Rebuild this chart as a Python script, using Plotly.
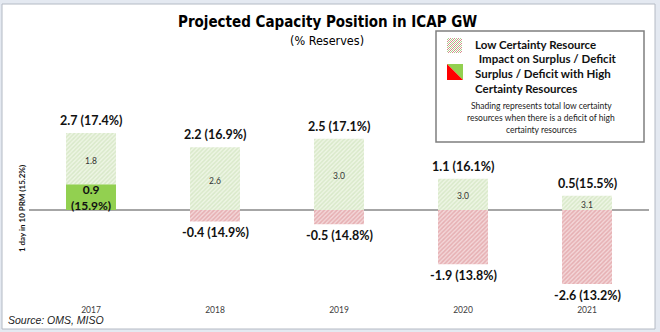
import plotly.graph_objects as go

# ---------------- data ----------------
years = ["2017", "2018", "2019", "2020", "2021"]
high_certainty = [0.9, -0.4, -0.5, -1.9, -2.6]      # surplus/deficit with high certainty resources (GW)
low_certainty = [1.8, 2.6, 3.0, 3.0, 3.1]           # low certainty resources (GW)
total_labels = ["2.7 (17.4%)", "2.2 (16.9%)", "2.5 (17.1%)", "1.1 (16.1%)", "0.5(15.5%)"]
high_labels = ["0.9<br>(15.9%)", "-0.4 (14.9%)", "-0.5 (14.8%)", "-1.9 (13.8%)", "-2.6 (13.2%)"]

totals = [round(h + l, 1) for h, l in zip(high_certainty, low_certainty)]
solid_green = [h if h > 0 else None for h in high_certainty]
green_hatch = [round(t - max(h, 0), 2) for t, h in zip(totals, high_certainty)]
red_hatch = [h if h < 0 else None for h in high_certainty]

# ---------------- layout geometry ----------------
W, H = 660, 332
L, R, T, B = 29, 649, 60, 299
PX_PER_GW = 28.5
ZERO_PX = 210
y_top = (ZERO_PX - T) / PX_PER_GW
y_bot = -(B - ZERO_PX) / PX_PER_GW


def px(x):
    return (x - L) / (R - L)


def py(y):
    return (B - y) / (B - T)


LATO = "Lato, 'Open Sans', sans-serif"
NARROW = "'Liberation Sans Narrow', 'Arial Narrow', 'DejaVu Sans Condensed', sans-serif"

G_BG, G_FG = "#eef5e5", "#c3dcae"
R_BG, R_FG = "#f3d6d8", "#d9878c"

fig = go.Figure()
fig.add_trace(go.Bar(x=years, y=solid_green, width=0.403, marker=dict(color="#92d050", line=dict(width=0)),
                     hoverinfo="skip"))
fig.add_trace(go.Bar(x=years, y=green_hatch, width=0.403,
                     marker=dict(color=G_BG, line=dict(width=0),
                                 pattern=dict(shape="/", fgcolor=G_FG, size=3, solidity=0.5, fillmode="overlay")),
                     hoverinfo="skip"))
fig.add_trace(go.Bar(x=years, y=red_hatch, width=0.403,
                     marker=dict(color=R_BG, line=dict(width=0),
                                 pattern=dict(shape="/", fgcolor=R_FG, size=3, solidity=0.5, fillmode="overlay")),
                     hoverinfo="skip"))

ann = []
# total labels above bars (x given as category index)
for i, (t, lab) in enumerate(zip(totals, total_labels)):
    ann.append(dict(xref="x", yref="y", x=i, y=t, text=f"<b>{lab}</b>", showarrow=False,
                    xanchor="center", yanchor="bottom", yshift=3,
                    font=dict(family=LATO, size=12.5, color="#111111")))
# high-certainty labels
for i, (h, lab) in enumerate(zip(high_certainty, high_labels)):
    if h > 0:
        ann.append(dict(xref="x", yref="y", x=i, y=h / 2, text=f"<b>{lab}</b>", showarrow=False,
                        xanchor="center", yanchor="middle",
                        font=dict(family=LATO, size=12, color="#111111")))
    else:
        ann.append(dict(xref="x", yref="y", x=i, y=h, text=f"<b>{lab}</b>", showarrow=False,
                        xanchor="center", yanchor="top", yshift=-2,
                        font=dict(family=LATO, size=12.5, color="#111111")))
# low certainty values inside hatched parts
for i, (h, t, lc) in enumerate(zip(high_certainty, totals, low_certainty)):
    base = max(h, 0)
    ann.append(dict(xref="x", yref="y", x=i, y=(base + t) / 2, text=f"{lc:.1f}", showarrow=False,
                    xanchor="center", yanchor="middle", yshift=-2,
                    font=dict(family=LATO, size=8.5, color="#333333")))


def pann(x, y, text, font, xanchor="center", **kw):
    d = dict(xref="paper", yref="paper", x=px(x), y=py(y), text=text, showarrow=False,
             xanchor=xanchor, yanchor="middle", font=font)
    d.update(kw)
    ann.append(d)


# titles
pann(327, 22, "<b>Projected Capacity Position in ICAP GW</b>", dict(family=NARROW, size=15, color="#000000"))
pann(327, 41, "(% Reserves)", dict(family=NARROW, size=12.5, color="#000000"))
# y title
pann(22, 209, "<b>1 day in 10 PRM (15.2%)</b>", dict(family=LATO, size=8, color="#111111"), textangle=-90)
# source
pann(6, 320, "<i>Source: OMS, MISO</i>", dict(family="'Liberation Sans', Arial, sans-serif", size=10.5,
                                               color="#222222"), xanchor="left")
# legend texts
leg_font = dict(family=LATO, size=11.5, color="#111111")
for txt, xx, yy in [("Low Certainty Resource", 473, 44), (" Impact on Surplus / Deficit", 474, 58),
                    ("Surplus / Deficit with High", 473, 73), ("Certainty Resources", 473, 88)]:
    pann(xx, yy, f"<b>{txt}</b>", leg_font, xanchor="left")
for txt, yy in [("Shading represents total low certainty", 106), ("resources when there is a deficit of high", 118),
                ("certainty resources", 130)]:
    pann(541, yy, txt, dict(family=LATO, size=8.5, color="#222222"))

shapes = []
# outer frame
shapes.append(dict(type="rect", xref="paper", yref="paper", x0=px(2), x1=px(655), y0=py(329), y1=py(4),
                   fillcolor="white", line=dict(color="#b4bac4", width=1), layer="below"))
# legend box
shapes.append(dict(type="rect", xref="paper", yref="paper", x0=px(436), x1=px(644), y0=py(142), y1=py(31),
                   fillcolor="white", line=dict(color="#7f7f7f", width=1.5), layer="above"))
# hatched legend icon (diagonal stripes)
ix0, iy0, s = 447, 38, 15
cols = ["#a9d08e", "#d98a8e"]
k = 0
for off in range(-s, s + 1, 2):
    u0 = max(0, off)
    v0 = u0 - off
    u1 = min(s, s + off)
    v1 = u1 - off
    if u1 - u0 < 0.5:
        continue
    shapes.append(dict(type="line", xref="paper", yref="paper",
                       x0=px(ix0 + u0), y0=py(iy0 + s - v0), x1=px(ix0 + u1), y1=py(iy0 + s - v1),
                       line=dict(color=cols[k % 2], width=1)))
    k += 1
# triangle icon
tx0, ty0, ts = 447, 64, 16
shapes.append(dict(type="path", xref="paper", yref="paper",
                   path=f"M {px(tx0)} {py(ty0)} L {px(tx0+ts)} {py(ty0)} L {px(tx0+ts)} {py(ty0+ts)} Z",
                   fillcolor="#92d050", line=dict(width=0)))
shapes.append(dict(type="path", xref="paper", yref="paper",
                   path=f"M {px(tx0)} {py(ty0)} L {px(tx0)} {py(ty0+ts)} L {px(tx0+ts)} {py(ty0+ts)} Z",
                   fillcolor="#ff0000", line=dict(width=0)))

fig.update_layout(
    width=W, height=H, barmode="relative", showlegend=False,
    margin=dict(l=L, r=W - R, t=T, b=H - B, pad=0),
    paper_bgcolor="#e4e9f1", plot_bgcolor="rgba(0,0,0,0)",
    xaxis=dict(type="category", range=[-0.5, 4.5], showgrid=False, showline=False, ticks="",
               ticklabelstandoff=4,
               tickfont=dict(family=LATO, size=8.5, color="#404040")),
    yaxis=dict(range=[y_bot, y_top], showgrid=False, showticklabels=False, ticks="",
               zeroline=True, zerolinecolor="#a6a6a6", zerolinewidth=2),
    annotations=ann, shapes=shapes,
)

fig.write_html("out.html")
